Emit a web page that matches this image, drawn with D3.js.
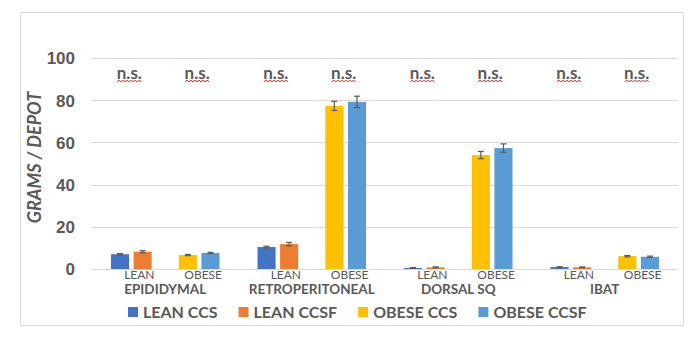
<!DOCTYPE html>
<html>
<head>
<meta charset="utf-8">
<script src="https://cdn.jsdelivr.net/npm/d3@7"></script>
<style>
  body { margin: 0; background: #fff; }
  svg { display: block; font-family: Lato, "Open Sans", sans-serif; }
  .txt { fill: #595959; }
</style>
</head>
<body>
<div class="chart"></div>
<script>
// 資料
const depots = ['EPIDIDYMAL', 'RETROPERITONEAL', 'DORSAL SQ', 'IBAT'];
const groups = ['LEAN', 'OBESE'];
const seriesNames = ['LEAN CCS', 'LEAN CCSF', 'OBESE CCS', 'OBESE CCSF'];
const seriesColors = ['#4472C4', '#ED7D31', '#FFC000', '#5B9BD5'];
const leanCCS = [7.0, 10.4, 0.5, 0.9];
const leanCCSF = [8.2, 11.8, 0.8, 0.8];
const obeseCCS = [6.6, 77.3, 54.0, 6.1];
const obeseCCSF = [7.6, 79.2, 57.3, 5.8];
const leanCCSErr = [0.3, 0.4, 0.2, 0.2];
const leanCCSFErr = [0.5, 0.8, 0.2, 0.2];
const obeseCCSErr = [0.3, 2.2, 1.7, 0.3];
const obeseCCSFErr = [0.3, 2.7, 2.0, 0.3];
const yTicks = [0, 20, 40, 60, 80, 100];
const sigLabel = 'n.s.';

const values = [leanCCS, leanCCSF, obeseCCS, obeseCCSF];
const errors = [leanCCSErr, leanCCSFErr, obeseCCSErr, obeseCCSFErr];

const barData = [];
depots.forEach((dp, i) => {
  seriesNames.forEach((s, k) => {
    barData.push({
      depot: dp,
      group: groups[Math.floor(k / 2)],
      sub: k % 2,
      series: s,
      color: seriesColors[k],
      value: values[k][i],
      err: errors[k][i]
    });
  });
});

const W = 697, H = 341;
const plot = {left: 92, right: 678, top: 58, bottom: 269};

const svg = d3.select('.chart').append('svg').attr('width', W).attr('height', H);

// 外框
svg.append('rect').attr('x', 20.5).attr('y', 12.5).attr('width', 663).attr('height', 313)
  .attr('fill', 'none').attr('stroke', '#d9d9d9');

const y = d3.scaleLinear().domain([0, 100]).range([plot.bottom, plot.top]);
const x0 = d3.scaleBand().domain(depots).range([plot.left, plot.right]);
const x1 = d3.scaleBand().domain(groups).range([0, x0.bandwidth()]).paddingInner(0).paddingOuter(0.08);
const x2 = d3.scaleBand().domain([0, 1]).range([0, x1.bandwidth()]).paddingInner(0.2).paddingOuter(0.6);

// 格線
svg.append('g').selectAll('line').data(yTicks).join('line')
  .attr('x1', plot.left).attr('x2', plot.right)
  .attr('y1', d => Math.round(y(d)) + 0.5).attr('y2', d => Math.round(y(d)) + 0.5)
  .attr('stroke', '#d9d9d9').attr('stroke-width', 1);

// Y 軸刻度
const yAxis = d3.axisLeft(y).tickValues(yTicks).tickSize(0).tickPadding(0);
const yAxisDraw = svg.append('g').attr('transform', `translate(${plot.left - 17},0)`).call(yAxis);
yAxisDraw.select('.domain').remove();
yAxisDraw.selectAll('text').attr('class', 'txt').style('font-size', '17px').style('font-weight', 'bold')
  .attr('font-family', null).attr('dy', '0.35em');

svg.append('text').attr('class', 'txt')
  .attr('transform', `translate(41,${(plot.top + plot.bottom) / 2 - 6}) rotate(-90)`)
  .attr('text-anchor', 'middle')
  .style('font-size', '18px').style('font-weight', 'bold').style('font-style', 'italic')
  .text('GRAMS / DEPOT');

const barX = d => x0(d.depot) + x1(d.group) + x2(d.sub);

// 長條
svg.append('g').selectAll('rect').data(barData).join('rect')
  .attr('x', barX)
  .attr('y', d => y(d.value))
  .attr('width', x2.bandwidth())
  .attr('height', d => y(0) - y(d.value))
  .attr('fill', d => d.color);

// 誤差線
const eb = svg.append('g').attr('stroke', '#595959').attr('stroke-width', 1.2);
barData.forEach(d => {
  const cx = barX(d) + x2.bandwidth() / 2;
  const yHi = y(d.value + d.err), yLo = y(d.value - d.err);
  eb.append('line').attr('x1', cx).attr('x2', cx).attr('y1', yHi).attr('y2', yLo);
  eb.append('line').attr('x1', cx - 3).attr('x2', cx + 3).attr('y1', yHi).attr('y2', yHi);
  eb.append('line').attr('x1', cx - 3).attr('x2', cx + 3).attr('y1', yLo).attr('y2', yLo);
});

// 組別標籤
const groupCells = depots.flatMap(dp => groups.map(g => ({depot: dp, group: g})));
const groupCenter = d => x0(d.depot) + x1(d.group) + x1.bandwidth() / 2;
svg.append('g').selectAll('text').data(groupCells).join('text')
  .attr('class', 'txt')
  .attr('x', d => groupCenter(d) + (d.group === 'LEAN' ? 8 : 4))
  .attr('y', 279)
  .attr('text-anchor', 'middle')
  .style('font-size', '12px')
  .text(d => d.group);

svg.append('g').selectAll('text').data(depots).join('text')
  .attr('class', 'txt')
  .attr('x', d => x0(d) + x0.bandwidth() / 2)
  .attr('y', 294)
  .attr('text-anchor', 'middle')
  .style('font-size', '13.5px').style('font-weight', 'bold')
  .text(d => d);

// n.s. 標註
const ns = svg.append('g');
groupCells.forEach(d => {
  const cx = groupCenter(d) - 2;
  ns.append('text').attr('class', 'txt')
    .attr('x', cx).attr('y', 79)
    .attr('text-anchor', 'middle')
    .style('font-size', '17px').style('font-weight', 'bold')
    .text(sigLabel);
  const pts = d3.range(-12, 13, 2).map((v, i) => [cx + v, 81 + (i % 2 ? -1 : 1)]);
  ns.append('path').attr('d', d3.line()(pts)).attr('fill', 'none')
    .attr('stroke', '#e02020').attr('stroke-width', 1);
});

// 圖例
const legend = svg.append('g').attr('transform', 'translate(128,318)');
let lx = 0;
seriesNames.forEach((s, k) => {
  const item = legend.append('g').attr('transform', `translate(${lx},0)`);
  item.append('rect').attr('x', 0).attr('y', -11).attr('width', 10).attr('height', 10).attr('fill', seriesColors[k]);
  const t = item.append('text').attr('class', 'txt').attr('x', 15).attr('y', 0)
    .style('font-size', '16px').style('font-weight', 'bold').text(s);
  lx += 15 + t.node().getComputedTextLength() + 21;
});
</script>
</body>
</html>
